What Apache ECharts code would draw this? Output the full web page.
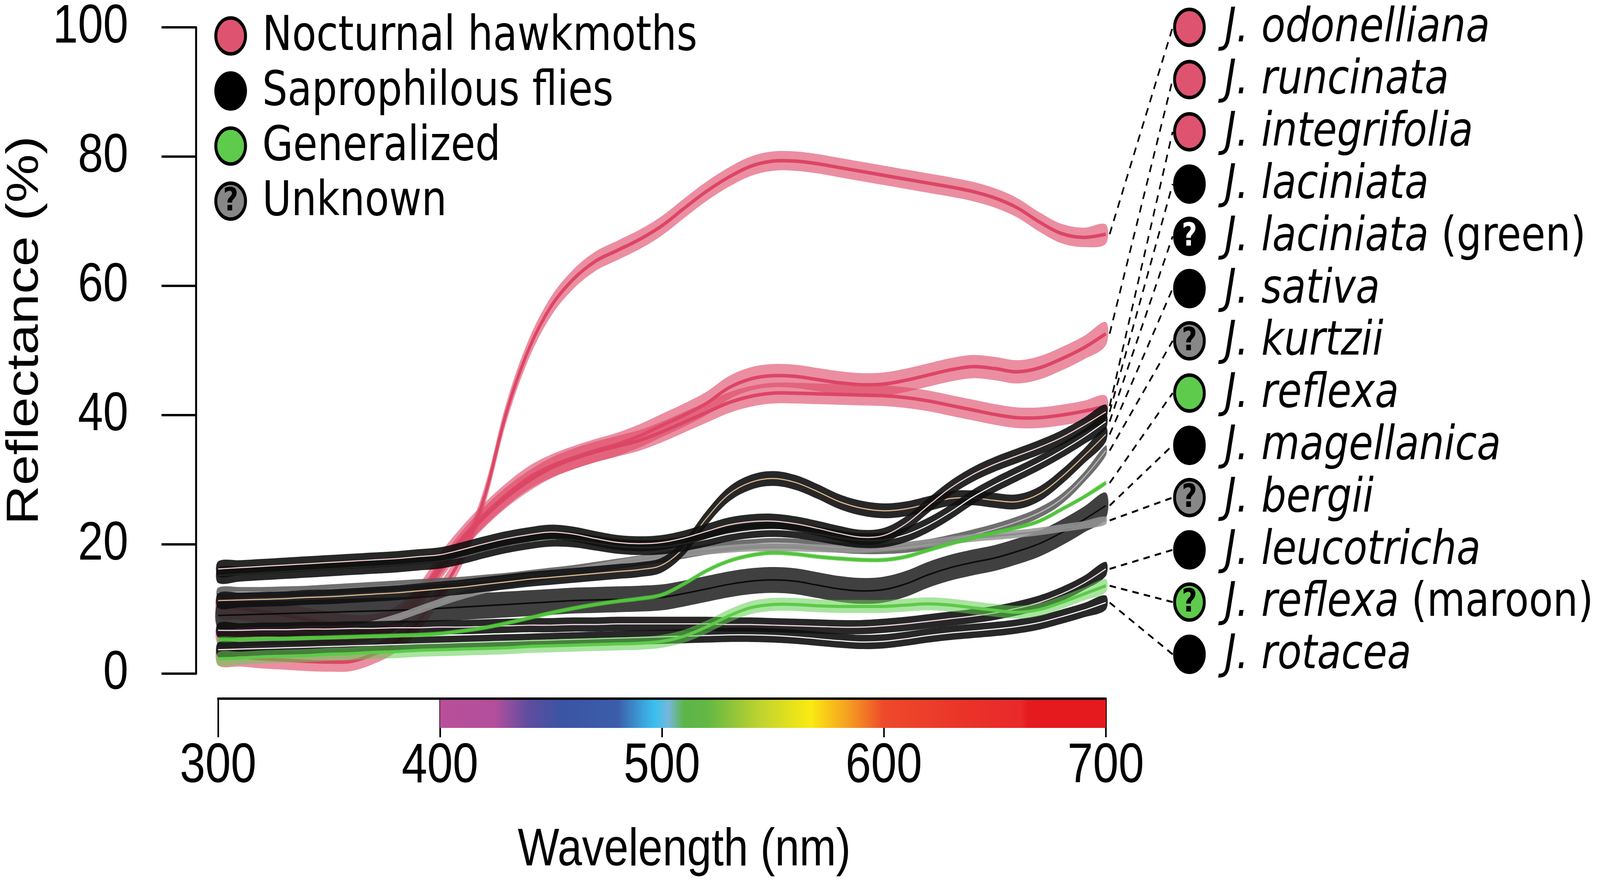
<!DOCTYPE html>
<html>
<head>
<meta charset="utf-8">
<script src="https://cdn.jsdelivr.net/npm/echarts@6/dist/echarts.min.js"></script>
<style>
  html, body { margin: 0; padding: 0; background: #fff; overflow: hidden; }
  #chart { width: 4953px; height: 2256px; transform-origin: 0 0; }
</style>
</head>
<body>
<div id="chart"></div>
<script>
// wavelength grid (nm)
const wavelengths = [300,310,320,330,340,350,360,370,380,390,400,410,420,430,440,450,460,470,480,490,500,
  510,520,530,540,550,560,570,580,590,600,610,620,630,640,650,660,670,680,690,700];

// mean reflectance (%) per taxon
const odonelliana = [2.8,2.6,2.3,2.1,1.9,1.8,1.9,3.0,4.8,8.0,12.5,18.3,27.3,40.5,50.2,56.8,61.0,63.8,65.5,67.2,69.3,
  72.0,74.6,76.8,78.5,79.3,79.3,78.9,78.3,77.7,77.1,76.5,75.9,75.3,74.6,73.6,72.1,69.9,68.1,67.5,68.0];
const runcinata = [10.5,10.1,9.6,9.0,8.4,7.8,7.3,7.4,8.6,11.8,16.8,21.0,24.6,27.7,30.3,32.1,33.4,34.5,35.5,36.8,38.4,
  40.0,41.8,44.2,45.6,46.1,46.0,45.5,45.0,44.7,44.8,45.4,46.2,47.0,47.5,47.2,46.7,47.3,48.7,50.4,52.6];
const integrifolia = [6.2,6.2,6.1,6.0,6.0,6.1,6.3,6.9,8.3,11.2,16.0,20.5,24.2,27.3,29.8,31.8,33.2,34.3,35.2,36.1,37.4,
  38.9,40.4,41.9,42.9,43.4,43.4,43.3,43.2,43.1,43.0,42.7,42.2,41.5,40.8,40.1,39.6,39.6,40.0,40.6,41.4];
const laciniata = [16.2,16.4,16.6,16.8,17.0,17.2,17.4,17.6,17.8,18.1,18.4,19.2,20.1,20.9,21.5,21.9,21.6,20.9,20.3,20.1,20.3,
  21.0,22.0,23.0,23.5,23.6,23.2,22.5,21.7,21.1,21.4,23.2,26.0,28.7,30.8,32.4,33.7,35.0,36.5,38.4,40.5];
const laciniataGreen = [15.2,15.4,15.6,15.8,16.0,16.2,16.4,16.6,16.8,17.1,17.4,18.1,19.0,19.8,20.4,20.8,20.7,20.2,19.7,19.5,19.6,
  20.1,20.8,21.6,22.1,22.3,22.1,21.6,21.0,20.6,20.7,21.5,23.0,25.0,27.3,29.2,30.9,32.6,34.5,36.6,39.0];
const sativa = [11.3,11.4,11.5,11.6,11.8,11.9,12.1,12.3,12.5,12.8,13.1,13.4,13.8,14.2,14.6,14.9,15.2,15.5,15.8,16.1,16.8,
  19.5,24.0,27.7,29.6,30.2,29.6,28.2,26.6,25.6,25.2,25.5,26.3,27.1,27.2,26.8,26.6,27.8,30.4,33.6,37.0];
const kurtzii = [12.5,12.6,12.6,12.7,12.8,13.0,13.2,13.4,13.6,13.8,14.0,14.2,14.5,14.8,15.2,15.6,16.0,16.5,17.0,17.5,18.0,
  18.6,19.2,19.7,20.0,20.2,20.1,19.8,19.5,19.3,19.3,19.5,20.0,20.7,21.5,22.4,23.5,24.9,27.0,30.3,34.5];
const reflexa = [5.3,5.3,5.4,5.4,5.5,5.6,5.7,5.8,5.9,6.0,6.2,6.6,7.1,7.8,8.6,9.4,10.1,10.7,11.2,11.6,12.2,
  13.9,15.9,17.4,18.3,18.7,18.5,18.1,17.8,17.6,17.6,18.1,19.1,20.1,21.0,21.8,22.6,23.6,25.4,27.3,29.5];
const magellanica = [9.0,9.1,9.2,9.3,9.4,9.5,9.6,9.7,9.8,9.9,10.1,10.3,10.5,10.7,10.9,11.1,11.3,11.4,11.5,11.6,11.8,
  12.4,13.1,13.8,14.3,14.5,14.3,13.7,13.1,12.8,13.0,13.9,15.3,16.4,17.2,17.9,18.9,20.1,21.8,23.8,26.0];
const bergii = [4.7,4.8,5.0,5.2,5.5,6.0,6.7,7.6,8.6,9.8,11.0,12.1,13.0,13.8,14.5,15.2,15.8,16.4,17.0,17.6,18.1,
  18.6,19.0,19.3,19.5,19.5,19.5,19.4,19.3,19.3,19.5,19.8,20.2,20.6,21.0,21.3,21.6,22.0,22.5,23.0,23.7];
const leucotricha = [6.7,6.7,6.8,6.8,6.9,6.9,7.0,7.0,7.1,7.1,7.2,7.2,7.3,7.4,7.5,7.5,7.6,7.6,7.7,7.7,7.7,
  7.7,7.7,7.6,7.6,7.5,7.4,7.3,7.2,7.2,7.4,7.7,8.1,8.5,8.9,9.4,10.1,11.0,12.3,14.0,16.2];
const rotacea = [3.7,3.8,3.9,4.0,4.1,4.2,4.3,4.4,4.5,4.6,4.7,4.8,4.9,5.0,5.1,5.2,5.3,5.4,5.5,5.6,5.7,
  5.8,5.9,6.0,6.0,5.9,5.7,5.4,5.1,4.9,5.0,5.4,5.9,6.3,6.6,6.9,7.3,7.9,8.8,9.8,11.0];
const reflexaMaroon = [2.3,2.4,2.6,2.7,2.8,3.0,3.1,3.3,3.4,3.6,3.7,3.8,3.9,4.0,4.2,4.3,4.4,4.5,4.6,4.7,5.0,
  5.8,7.2,8.9,10.2,10.7,10.7,10.5,10.4,10.4,10.4,10.6,10.8,10.6,10.2,9.8,9.5,9.9,11.0,12.3,13.6];

// half width of the error ribbon (%), same order as the legend on the right
const ribbonHalf = [1.5, 1.8, 1.6, 1.15, 1.15, 1.15, 0.8, 0.35, 2.0, 0.6, 1.1, 1.0, 1.1];

const xTicks = [300, 400, 500, 600, 700];
const groupNames = ['Nocturnal hawkmoths', 'Saprophilous flies', 'Generalized', 'Unknown'];

// legend order on the right
const taxa = [
  { id: 'odo', genus: 'J. odonelliana', note: '', data: odonelliana, kind: 'pink' },
  { id: 'run', genus: 'J. runcinata', note: '', data: runcinata, kind: 'pink' },
  { id: 'int', genus: 'J. integrifolia', note: '', data: integrifolia, kind: 'pink' },
  { id: 'lac', genus: 'J. laciniata', note: '', data: laciniata, kind: 'black' },
  { id: 'lacg', genus: 'J. laciniata', note: '(green)', data: laciniataGreen, kind: 'blackQ' },
  { id: 'sat', genus: 'J. sativa', note: '', data: sativa, kind: 'black' },
  { id: 'kur', genus: 'J. kurtzii', note: '', data: kurtzii, kind: 'gray' },
  { id: 'ref', genus: 'J. reflexa', note: '', data: reflexa, kind: 'green' },
  { id: 'mag', genus: 'J. magellanica', note: '', data: magellanica, kind: 'black' },
  { id: 'ber', genus: 'J. bergii', note: '', data: bergii, kind: 'gray' },
  { id: 'leu', genus: 'J. leucotricha', note: '', data: leucotricha, kind: 'black' },
  { id: 'refm', genus: 'J. reflexa', note: '(maroon)', data: reflexaMaroon, kind: 'greenQ' },
  { id: 'rot', genus: 'J. rotacea', note: '', data: rotacea, kind: 'black' }
];
taxa.forEach((t, i) => { t.half = ribbonHalf[i]; });

// ribbon / centre line styles
const looks = {
  odo:  { band: 'rgba(222,72,104,0.62)', line: '#dc4566', w: 9 },
  run:  { band: 'rgba(222,72,104,0.62)', line: '#dc4566', w: 9 },
  int:  { band: 'rgba(222,72,104,0.62)', line: '#dc4566', w: 9 },
  mag:  { band: 'rgba(38,38,38,0.88)', line: '#0c0c0c', w: 4 },
  kur:  { band: 'rgba(95,95,95,0.9)', line: '#bdbdbd', w: 3 },
  ber:  { band: 'rgba(150,150,150,0.85)', line: '#8c8c8c', w: 5 },
  sat:  { band: 'rgba(16,16,16,0.9)', line: '#d9b98f', w: 3 },
  lacg: { band: 'rgba(16,16,16,0.9)', line: '#f2f2f2', w: 3 },
  lac:  { band: 'rgba(16,16,16,0.9)', line: '#efcccc', w: 3 },
  leu:  { band: 'rgba(16,16,16,0.9)', line: '#efd6e4', w: 3 },
  rot:  { band: 'rgba(16,16,16,0.9)', line: '#f3eef3', w: 3 },
  refm: { band: 'rgba(98,205,82,0.55)', line: '#5ccb48', w: 8 },
  ref:  { band: 'rgba(80,196,60,0.55)', line: '#52c43c', w: 8 }
};
const drawOrder = ['odo', 'run', 'int', 'mag', 'kur', 'ber', 'sat', 'lacg', 'lac', 'leu', 'rot', 'refm', 'ref'];

// the figure is laid out at 4953 x 2256 and squeezed to whatever the window really is
const dom = document.getElementById('chart');
dom.style.transform = 'scale(' + (window.innerWidth / 4953) + ',' + (window.innerHeight / 2256) + ')';
const chart = echarts.init(dom, null, { renderer: 'canvas', devicePixelRatio: 1 });

// one custom series per taxon: smoothed ribbon polygon plus centre line
function ribbon(t) {
  const look = looks[t.id];
  return {
    type: 'custom', silent: true, clip: false,
    data: wavelengths.map((w, i) => [w, t.data[i]]),
    encode: { x: 0, y: 1 },
    renderItem: (params, api) => {
      if (params.dataIndex !== 0) return null;
      const up = wavelengths.map((w, i) => api.coord([w, t.data[i] + t.half]));
      const lo = wavelengths.map((w, i) => api.coord([w, t.data[i] - t.half]));
      const mid = wavelengths.map((w, i) => api.coord([w, t.data[i]]));
      return {
        type: 'group',
        children: [
          { type: 'polygon', shape: { points: up.concat(lo.reverse()), smooth: 0.35 },
            style: { fill: look.band } },
          { type: 'polyline', shape: { points: mid, smooth: 0.35 },
            style: { stroke: look.line, lineWidth: look.w, fill: null } }
        ]
      };
    }
  };
}

const series = drawOrder.map(id => ribbon(taxa.find(t => t.id === id)));

chart.setOption({
  animation: false,
  backgroundColor: '#fff',
  grid: { left: 675, right: 4953 - 3423, top: 54, bottom: 2256 - 1725 },
  xAxis: {
    type: 'value', min: 300, max: 700, interval: 100, offset: 64,
    axisLine: { show: true, onZero: false, lineStyle: { color: '#000', width: 6 } },
    axisTick: { show: true, length: 99, lineStyle: { color: '#000', width: 5 } },
    axisLabel: {
      fontSize: 142, fontFamily: 'Liberation Sans, Arial', color: '#000', margin: 104,
      showMinLabel: true, showMaxLabel: true,
      formatter: v => (xTicks.indexOf(v) >= 0 ? String(v) : '')
    },
    splitLine: { show: false }
  },
  yAxis: {
    type: 'value', min: 0, max: 100, interval: 20, offset: 68,
    axisLine: { show: true, onZero: false, lineStyle: { color: '#000', width: 6 } },
    axisTick: { show: true, length: 107, lineStyle: { color: '#000', width: 6 } },
    axisLabel: {
      fontSize: 140, fontFamily: 'Liberation Sans, Arial', color: '#000', margin: 210,
      showMinLabel: true, showMaxLabel: true
    },
    splitLine: { show: false }
  },
  series: series
});

// overlay: spectrum bar, titles, legends, connector lines
const px = (x, y) => chart.convertToPixel({ gridIndex: 0 }, [x, y]);
const x400 = px(400, 0)[0], x700 = px(700, 0)[0];
const axisY = px(300, 0)[1] + 64;

const spectrumStops = [
  [400, '#b94f9a'], [425, '#b24f9c'], [440, '#5e4d9f'], [455, '#3a55a4'], [480, '#3c5daa'],
  [492, '#3ba7de'], [497, '#3cc0ee'], [503, '#77b7da'], [510, '#5db548'], [520, '#62b745'],
  [545, '#c2d42e'], [567, '#faeb12'], [585, '#f59a22'], [600, '#ee4a2b'], [640, '#ea3129'],
  [662, '#e9292a'], [665, '#e41a1e'], [700, '#e41a1e']
];

const graphics = [];
graphics.push({
  type: 'rect', z: 50,
  shape: { x: x400, y: axisY + 3, width: x700 - x400, height: 72 },
  style: {
    fill: new echarts.graphic.LinearGradient(0, 0, 1, 0,
      spectrumStops.map(st => ({ offset: (st[0] - 400) / 300, color: st[1] })))
  }
});

graphics.push({
  type: 'text', z: 60, x: 2118, y: 2178,
  style: { text: 'Wavelength (nm)', font: '136px "Liberation Sans", Arial', fill: '#000',
    align: 'center', verticalAlign: 'middle' }
});
graphics.push({
  type: 'text', z: 60, x: 78, y: 846, rotation: Math.PI / 2,
  style: { text: 'Reflectance (%)', font: '140px "Liberation Sans", Arial', fill: '#000',
    align: 'center', verticalAlign: 'middle' }
});

const dotFill = { pink: '#de5470', black: '#000000', blackQ: '#000000', gray: '#878787', green: '#5fcb4d', greenQ: '#5fcb4d' };
const qColor = { blackQ: '#ffffff', gray: '#000000', greenQ: '#000000' };

function dot(cx, cy, kind) {
  graphics.push({
    type: 'circle', z: 70, shape: { cx: cx, cy: cy, r: 46 },
    style: { fill: dotFill[kind], stroke: '#000', lineWidth: 9 }
  });
  if (qColor[kind]) {
    graphics.push({
      type: 'text', z: 71, x: cx, y: cy + 3,
      style: { text: '?', font: 'bold 82px "DejaVu Sans"', fill: qColor[kind],
        align: 'center', verticalAlign: 'middle' }
    });
  }
}

// group legend (top left)
const groupKinds = ['pink', 'black', 'green', 'gray'];
groupNames.forEach((name, i) => {
  const cy = 92 + i * 141;
  dot(714, cy, groupKinds[i]);
  graphics.push({
    type: 'text', z: 70, x: 812, y: cy + 4,
    style: { text: name, font: '123px "DejaVu Sans"', fill: '#000', align: 'left', verticalAlign: 'middle' }
  });
});

// taxon legend (right) with dashed connectors to curve ends
taxa.forEach((t, i) => {
  const cy = 70 + i * 133.8;
  const end = px(700, t.data[t.data.length - 1]);
  graphics.push({
    type: 'line', z: 65,
    shape: { x1: end[0] + 12, y1: end[1], x2: 3630, y2: cy },
    style: { stroke: '#000', lineWidth: 5, lineDash: [20, 16] }
  });
  dot(3682, cy, t.kind);
  graphics.push({
    type: 'text', z: 70, x: 3791, y: cy + 4,
    style: {
      text: '{i|' + t.genus + '}' + (t.note ? '{n| ' + t.note + '}' : ''),
      verticalAlign: 'middle', align: 'left',
      rich: {
        i: { font: 'italic 122px "DejaVu Sans"', fill: '#000' },
        n: { font: '122px "DejaVu Sans"', fill: '#000' }
      }
    }
  });
});

chart.setOption({ graphic: graphics });
</script>
</body>
</html>
